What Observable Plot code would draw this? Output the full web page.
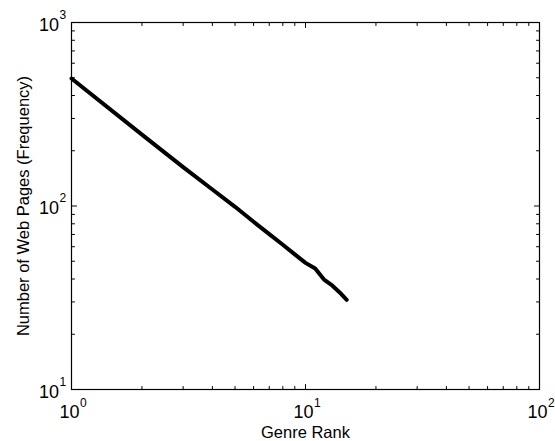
<!DOCTYPE html>
<html>
<head>
<meta charset="utf-8">
<script src="https://cdn.jsdelivr.net/npm/d3@7"></script>
<script src="https://cdn.jsdelivr.net/npm/@observablehq/plot@0.6"></script>
<style>
  html, body { margin: 0; padding: 0; background: #fff; }
  #chart { width: 555px; height: 441px; }
</style>
</head>
<body>
<div id="chart"></div>
<script>
// ---- data ----
const ranks = [1, 2, 3, 4, 5, 6, 7, 8, 9, 10, 11, 12, 13, 14, 15];
const frequency = [495, 245, 163, 123, 99, 82, 70.3, 61.5, 54.5, 49, 45.6, 39.7, 36.9, 33.8, 30.8];

const xTickValues = [1, 10, 100];
const xTickExponents = ["0", "1", "2"];
const yTickValues = [10, 100, 1000];
const yTickExponents = ["1", "2", "3"];

const xLabel = "Genre Rank";
const yLabel = "Number of Web Pages (Frequency)";

// ---- build ----
const data = ranks.map((r, i) => ({rank: r, freq: frequency[i]}));

function minorTicks(lo, hi) {
  const out = [];
  for (let d = lo; d < hi; d *= 10) for (let m = 2; m <= 9; m++) out.push(d * m);
  return out;
}
const xMinor = minorTicks(1, 100);
const yMinor = minorTicks(10, 1000);

const tickShape = {draw(ctx, l) { ctx.moveTo(0, 0); ctx.lineTo(0, -l); }};
const font = "'Liberation Sans', Arial, Helvetica, sans-serif";
const majorLen = 5, minorLen = 3;

function xTicks(vals, len) {
  return [
    Plot.vector(vals, {x: d => d, y: () => 10, length: len, rotate: 0, anchor: "start", shape: tickShape, stroke: "black", strokeWidth: 1}),
    Plot.vector(vals, {x: d => d, y: () => 1000, length: len, rotate: 180, anchor: "start", shape: tickShape, stroke: "black", strokeWidth: 1})
  ];
}
function yTicks(vals, len) {
  return [
    Plot.vector(vals, {x: () => 1, y: d => d, length: len, rotate: 90, anchor: "start", shape: tickShape, stroke: "black", strokeWidth: 1}),
    Plot.vector(vals, {x: () => 100, y: d => d, length: len, rotate: 270, anchor: "start", shape: tickShape, stroke: "black", strokeWidth: 1})
  ];
}

const chart = Plot.plot({
  width: 555,
  height: 441,
  marginLeft: 71,
  marginRight: 16,
  marginTop: 22,
  marginBottom: 52,
  style: {fontFamily: font, background: "white", color: "black"},
  x: {type: "log", domain: [1, 100], axis: null},
  y: {type: "log", domain: [10, 1000], axis: null},
  marks: [
    ...xTicks(xMinor, minorLen),
    ...xTicks(xTickValues, majorLen),
    ...yTicks(yMinor, minorLen),
    ...yTicks(yTickValues, majorLen),
    Plot.frame({stroke: "black", strokeWidth: 1.2}),
    Plot.line(data, {x: "rank", y: "freq", stroke: "black", strokeWidth: 4, strokeLinejoin: "round"}),
    // x tick labels
    Plot.text(xTickValues, {x: d => d, y: () => 10, text: () => "10", textAnchor: "end", lineAnchor: "bottom", dx: 8, dy: 28.5, fontSize: 18, ariaLabel: "ticklab"}),
    Plot.text(xTickValues, {x: d => d, y: () => 10, text: (d, i) => xTickExponents[i], textAnchor: "start", lineAnchor: "bottom", dx: 8.5, dy: 17, fontSize: 12}),
    // y tick labels
    Plot.text(yTickValues, {x: () => 1, y: d => d, text: () => "10", textAnchor: "end", lineAnchor: "bottom", dx: -12.5, dy: 8, fontSize: 18, ariaLabel: "ticklab"}),
    Plot.text(yTickValues, {x: () => 1, y: d => d, text: (d, i) => yTickExponents[i], textAnchor: "start", lineAnchor: "bottom", dx: -12, dy: -4, fontSize: 12}),
    // axis labels
    Plot.text([xLabel], {frameAnchor: "bottom", text: d => d, textAnchor: "middle", lineAnchor: "bottom", dy: 48.5, fontSize: 16.5, ariaLabel: "axislab"}),
    Plot.text([yLabel], {frameAnchor: "left", text: d => d, textAnchor: "middle", rotate: -90, lineAnchor: "bottom", dx: -43, fontSize: 16.5, ariaLabel: "axislab"})
  ]
});

chart.querySelectorAll('g[aria-label="ticklab"] text').forEach(t => t.setAttribute("letter-spacing", "1.5"));
chart.querySelectorAll('g[aria-label="axislab"] text').forEach(t => t.setAttribute("letter-spacing", "0.6"));
document.getElementById("chart").appendChild(chart);
</script>
</body>
</html>
